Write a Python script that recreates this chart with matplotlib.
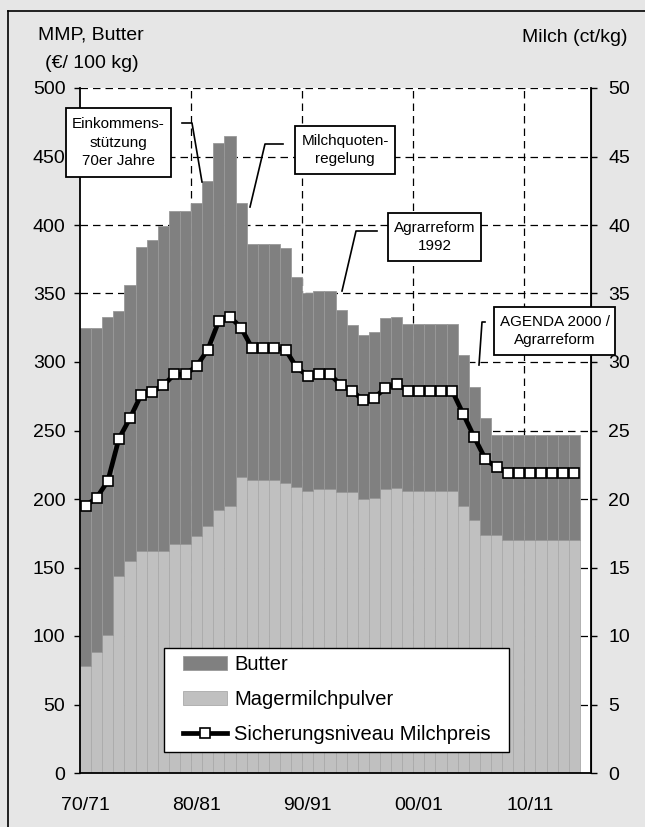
import matplotlib
matplotlib.use("Agg")
import matplotlib.pyplot as plt
import numpy as np
from matplotlib.lines import Line2D
from matplotlib.patches import Rectangle

plt.rcParams['font.family'] = ['Liberation Sans', 'DejaVu Sans']

# Wirtschaftsjahre 70/71 ... 14/15
jahre = [f"{j % 100:02d}/{(j + 1) % 100:02d}" for j in range(1970, 2015)]
tick_labels = ["70/71", "80/81", "90/91", "00/01", "10/11"]

# Interventionspreise (EUR / 100 kg)
mmp = [78, 88, 101, 144, 155, 162, 162, 162, 167, 167,
       173, 180, 192, 195, 216, 214, 214, 214, 212, 209,
       206, 207, 207, 205, 205, 200, 201, 207, 208, 206,
       206, 206, 206, 206, 195, 185, 174, 174, 170, 170,
       170, 170, 170, 170, 170]
gesamt = [325, 325, 333, 337, 356, 384, 389, 399, 410, 410,
          416, 432, 460, 465, 416, 386, 386, 386, 383, 362,
          350, 352, 352, 338, 327, 320, 322, 332, 333, 328,
          328, 328, 328, 328, 305, 282, 259, 247, 247, 247,
          247, 247, 247, 247, 247]
butter = [g - m for g, m in zip(gesamt, mmp)]

# Sicherungsniveau Milchpreis (ct/kg)
milch = [19.5, 20.1, 21.3, 24.4, 25.9, 27.6, 27.8, 28.3, 29.1, 29.1,
         29.7, 30.9, 33.0, 33.3, 32.5, 31.0, 31.0, 31.0, 30.9, 29.6,
         29.0, 29.1, 29.1, 28.3, 27.9, 27.2, 27.4, 28.1, 28.4, 27.9,
         27.9, 27.9, 27.9, 27.9, 26.2, 24.5, 22.9, 22.3, 21.9, 21.9,
         21.9, 21.9, 21.9, 21.9, 21.9]

W, H = 645, 827
fig = plt.figure(figsize=(W / 100, H / 100), dpi=100, facecolor='#e6e6e6')
ax = fig.add_axes([80 / W, 1 - 773 / H, 511 / W, 685 / H])
ax.set_facecolor('white')

x = np.arange(len(jahre))
ax.bar(x, mmp, width=1.0, color='#c0c0c0', edgecolor='#aaaaaa', linewidth=0.6,
       label='Magermilchpulver', zorder=2)
ax.bar(x, butter, bottom=mmp, width=1.0, color='#808080', edgecolor='#999999',
       linewidth=0.6, label='Butter', zorder=2)

ax.set_xlim(-0.5, len(jahre) + 0.5)
ax.set_ylim(0, 500)
ax.set_yticks(range(0, 501, 50))
ax.set_xticks([jahre.index(t) for t in tick_labels])
ax.set_xticklabels(tick_labels)
ax.tick_params(axis='x', length=0, pad=17, labelsize=14)
ax.tick_params(axis='y', direction='out', length=4.5, width=1, pad=6, labelsize=14)

# Gitter
for v in range(50, 501, 50):
    ax.axhline(v, color='black', lw=0.9, ls=(0, (6, 4)), zorder=1)
for i in [9.5, 19.5, 29.5, 39.5]:
    ax.axvline(i, color='black', lw=0.9, ls=(0, (6, 4)), zorder=1)

ax.spines['top'].set_visible(False)
ax.spines['left'].set_linewidth(1.3)
ax.spines['bottom'].set_linewidth(1.3)

ax2 = ax.twinx()
ax2.set_ylim(0, 50)
ax2.set_yticks(range(0, 51, 5))
ax2.plot(x, milch, color='black', lw=3.4, marker='s', markersize=7.5,
         markerfacecolor='white', markeredgecolor='black', markeredgewidth=1.2,
         label='Sicherungsniveau Milchpreis', zorder=3)
ax2.tick_params(axis='y', direction='out', length=4.5, width=1, pad=8, labelsize=14)
ax2.spines['top'].set_visible(False)
ax2.spines['left'].set_visible(False)
ax2.spines['bottom'].set_visible(False)
ax2.spines['right'].set_linewidth(1.3)


def ax_frac(px, py):
    return (px - 80) / 511, (773 - py) / 685


# Legende: Rahmen separat, Inhalt ohne Rahmen
lx0, ly0 = ax_frac(164, 752)
lx1, ly1 = ax_frac(509, 648)
ax2.add_patch(Rectangle((lx0, ly0), lx1 - lx0, ly1 - ly0, transform=ax2.transAxes,
                        facecolor='white', edgecolor='black', lw=1.0, zorder=4.5))
h1, l1 = ax.get_legend_handles_labels()
h2, l2 = ax2.get_legend_handles_labels()
handles = [h1[1], h1[0], h2[0]]
labels = [l1[1], l1[0], l2[0]]
leg = ax2.legend(handles, labels, loc='upper left', bbox_to_anchor=ax_frac(183, 655),
                 fontsize=14.5, frameon=False, handlelength=2.2, handletextpad=0.35,
                 labelspacing=0.8, borderpad=0, borderaxespad=0)
leg.set_zorder(5)

# Achsentitel
fig.text(91 / W, 1 - 35 / H, 'MMP, Butter', ha='center', va='center', fontsize=14)
fig.text(92 / W, 1 - 63 / H, '(€/ 100 kg)', ha='center', va='center', fontsize=14)
fig.text(628 / W, 1 - 38 / H, 'Milch (ct/kg)', ha='right', va='center', fontsize=14)


# Hinweiskästen mit Verbindungslinien (Pixelkoordinaten der Vorlage)
def px_data(px, py):
    return (px - 80) / 511 * 46 - 0.5, (773 - py) / 685 * 500


boxes = [
    ("Einkommens-\nstützung\n70er Jahre", (66, 108, 171, 177),
     [(182, 123), (192, 123), (202, 182)]),
    ("Milchquoten-\nregelung", (295, 126, 395, 174),
     [(283, 144), (265, 144), (250, 207)]),
    ("Agrarreform\n1992", (388, 213, 481, 261),
     [(377, 231), (356, 231), (342, 291)]),
    ("AGENDA 2000 /\nAgrarreform", (494, 307, 615, 355),
     [(485, 322), (482, 322), (479, 365)]),
]
for text, (x0, y0, x1, y1), leader in boxes:
    fig.add_artist(Rectangle((x0 / W, 1 - y1 / H), (x1 - x0) / W, (y1 - y0) / H,
                             transform=fig.transFigure, facecolor='white',
                             edgecolor='black', lw=1.3, zorder=5))
    fig.text((x0 + x1) / 2 / W, 1 - (y0 + y1) / 2 / H, text, ha='center', va='center',
             fontsize=11, linespacing=1.4, zorder=6)
    pts = [px_data(p, q) for p, q in leader]
    ax2.plot([p[0] for p in pts], [p[1] / 10 for p in pts], color='black', lw=1.2,
             zorder=4, clip_on=False)

# Rahmen
fig.add_artist(Line2D([8 / W, 8 / W], [0, 1 - 11 / H], color='black', lw=1.2,
                      transform=fig.transFigure))
fig.add_artist(Line2D([8 / W, 1], [1 - 11 / H, 1 - 11 / H], color='black', lw=1.2,
                      transform=fig.transFigure))

fig.savefig('out.png', dpi=100, facecolor=fig.get_facecolor())
